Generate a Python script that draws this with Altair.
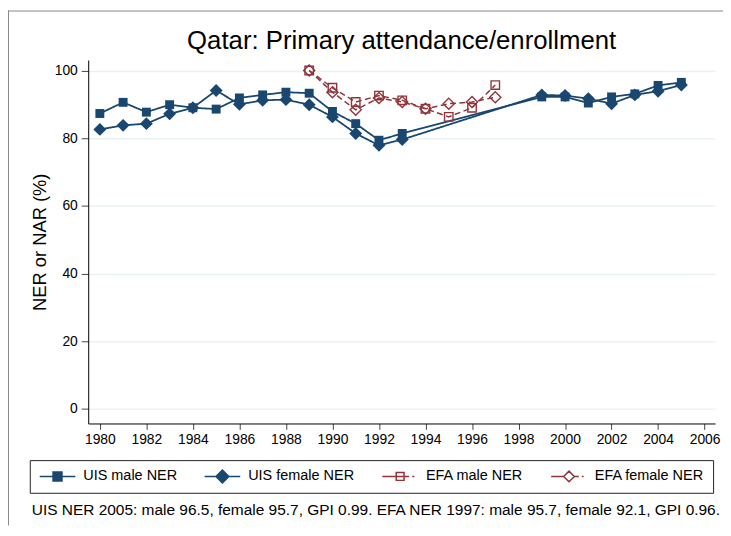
import altair as alt
import pandas as pd

NAVY = "#1a476f"
MAROON = "#90353b"
FONT = "Liberation Sans"

title_text = "Qatar: Primary attendance/enrollment"
y_title = "NER or NAR (%)"
caption = ("UIS NER 2005: male 96.5, female 95.7, GPI 0.99. "
           "EFA NER 1997: male 95.7, female 92.1, GPI 0.96.")

series_names = ["UIS male NER", "UIS female NER", "EFA male NER", "EFA female NER"]

years_uis = [1980, 1981, 1982, 1983, 1984, 1985, 1986, 1987, 1988, 1989,
             1990, 1991, 1992, 1993, 1999, 2000, 2001, 2002, 2003, 2004, 2005]
uis_male = [87.3, 90.6, 87.7, 89.9, 89.0, 88.6, 91.9, 92.8, 93.6, 93.3,
            87.9, 84.3, 79.4, 81.4, 92.2, 92.2, 90.4, 92.2, 93.1, 95.6, 96.5]
uis_female = [82.6, 83.8, 84.3, 87.2, 89.0, 94.1, 90.0, 91.2, 91.4, 89.9,
              86.3, 81.4, 77.9, 79.6, 92.8, 92.6, 91.7, 90.2, 92.8, 93.9, 95.7]

years_efa = [1989, 1990, 1991, 1992, 1993, 1994, 1995, 1996, 1997]
efa_male = [100.0, 94.9, 90.7, 92.6, 91.2, 88.7, 86.3, 89.0, 95.7]
efa_female = [100.0, 93.6, 88.4, 91.9, 90.7, 88.7, 90.2, 90.7, 92.1]

x_ticks = list(range(1980, 2007, 2))
y_ticks = [0, 20, 40, 60, 80, 100]

rows = []
for yr, v in zip(years_uis, uis_male):
    rows.append({"year": yr, "value": v, "series": series_names[0]})
for yr, v in zip(years_uis, uis_female):
    rows.append({"year": yr, "value": v, "series": series_names[1]})
for yr, v in zip(years_efa, efa_male):
    rows.append({"year": yr, "value": v, "series": series_names[2]})
for yr, v in zip(years_efa, efa_female):
    rows.append({"year": yr, "value": v, "series": series_names[3]})
df = pd.DataFrame(rows)

W, H = 633, 367
PAD_L, PAD_T, PAD_R, PAD_B = 81, 50, 8, 103

xscale = alt.Scale(domain=[1979.5, 2006.45], nice=False, zero=False)
yscale = alt.Scale(domain=[-4.3, 103.1], nice=False, zero=False)
col_scale = alt.Scale(domain=series_names, range=[NAVY, NAVY, MAROON, MAROON])

# per-series styles
marker_paths = [
    "M-1,-1H1V1H-1Z",
    "M0,-1.45L1.45,0L0,1.45L-1.45,0Z",
    "M-0.95,-0.95H0.95V0.95H-0.95Z",
    "M0,-1.25L1.25,0L0,1.25L-1.25,0Z",
]
marker_filled = [True, True, False, False]
series_colors = [NAVY, NAVY, MAROON, MAROON]
line_dashes = [[1, 0], [1, 0], [6, 3.5], [6, 3.5]]

# legend symbol paths (line + marker)
legend_paths = [
    "M-1,0H1M-0.25,-0.25H0.25V0.25H-0.25Z",
    "M-1,0H1M0,-0.36L0.36,0L0,0.36L-0.36,0Z",
    "M-1,0H-0.22M-0.22,-0.22H0.22V0.22H-0.22ZM-0.22,0H0.22M0.22,0H0.5M0.68,0H0.8",
    "M-1,0H-0.3M0,-0.3L0.3,0L0,0.3L-0.3,0ZM0.3,0H0.55M0.72,0H0.82",
]

x_enc = alt.X("year:Q", scale=xscale,
              axis=alt.Axis(values=x_ticks, format="d", title=None, grid=False,
                            tickSize=6, labelPadding=3, domainColor="black",
                            tickColor="#444", labelFlush=False,
                            labelFont=FONT, labelFontSize=14, labelColor="black"))
y_enc = alt.Y("value:Q", scale=yscale,
              axis=alt.Axis(values=y_ticks, title=y_title, grid=True,
                            gridColor="#eaf2f3", gridWidth=1.5,
                            tickSize=7, labelPadding=4, domainColor="black",
                            tickColor="#444",
                            labelFont=FONT, labelFontSize=14, labelColor="black",
                            titleFontSize=18.5, titleColor="black",
                            titleFont=FONT, titleFontWeight="normal",
                            titleX=-49, titleY=H / 2, titleAngle=270,
                            titleBaseline="middle", titleAlign="center"))

line_layers = []
for i, (name, colr, dash) in enumerate(zip(series_names, series_colors, line_dashes)):
    enc = {"x": x_enc, "y": y_enc} if i == 0 else {"x": "year:Q", "y": "value:Q"}
    line_layers.append(
        alt.Chart(df).transform_filter(alt.datum.series == name).mark_line(
            color=colr, strokeDash=dash, strokeWidth=1.8 if i < 2 else 1.5,
        ).encode(**enc)
    )

marker_layers = []
for name, path, filled, colr in zip(series_names, marker_paths, marker_filled, series_colors):
    marker_layers.append(
        alt.Chart(df).transform_filter(alt.datum.series == name).mark_point(
            shape=path, size=81, filled=filled, color=colr,
            strokeWidth=1.0 if filled else 1.4, opacity=1,
        ).encode(x="year:Q", y="value:Q")
    )

# legend proxy: size-0 points whose scales drive the legend
legend_layer = alt.Chart(df).mark_point(filled=False, size=0, opacity=1).encode(
    x="year:Q", y="value:Q",
    color=alt.Color("series:N", scale=col_scale, legend=alt.Legend(
        title=None, orient="none", legendX=-59, legendY=404,
        direction="horizontal", columns=4, columnPadding=26.5,
        labelFont=FONT, labelFontSize=14.6, labelColor="black",
        labelOffset=7, symbolSize=1296, symbolStrokeWidth=1.5, symbolOpacity=1,
        clipHeight=15, padding=9, strokeColor="#222", fillColor="white")),
    shape=alt.Shape("series:N", scale=alt.Scale(domain=series_names, range=legend_paths)),
    fill=alt.Fill("series:N", scale=alt.Scale(domain=series_names,
                  range=[NAVY, NAVY, "transparent", "transparent"])),
)

one = pd.DataFrame({"t": [caption]})
cap = alt.Chart(one).mark_text(align="left", baseline="middle", font=FONT,
                               fontSize=15.6, color="black").encode(
    x=alt.value(-57), y=alt.value(454), text="t:N")

frame_top = alt.Chart(one).mark_rule(color="#888888", strokeWidth=1).encode(
    x=alt.value(-PAD_L), x2=alt.value(W + PAD_R), y=alt.value(-PAD_T + 0.5))
frame_left = alt.Chart(one).mark_rule(color="#888888", strokeWidth=1).encode(
    x=alt.value(-PAD_L + 0.5), y=alt.value(-PAD_T), y2=alt.value(H + PAD_B))

chart = alt.layer(*line_layers, *marker_layers, legend_layer, cap, frame_top, frame_left).properties(
    width=W, height=H,
    background="white",
    autosize=alt.AutoSizeParams(type="none"),
    padding={"left": PAD_L, "top": PAD_T, "right": PAD_R, "bottom": PAD_B},
    title=alt.TitleParams(title_text, font=FONT, fontSize=26, fontWeight="normal",
                          color="black", anchor="middle", frame="group", offset=0, dy=44),
).configure_view(stroke="transparent")

chart.save("out.html", embed_options={"renderer": "svg", "actions": False})
